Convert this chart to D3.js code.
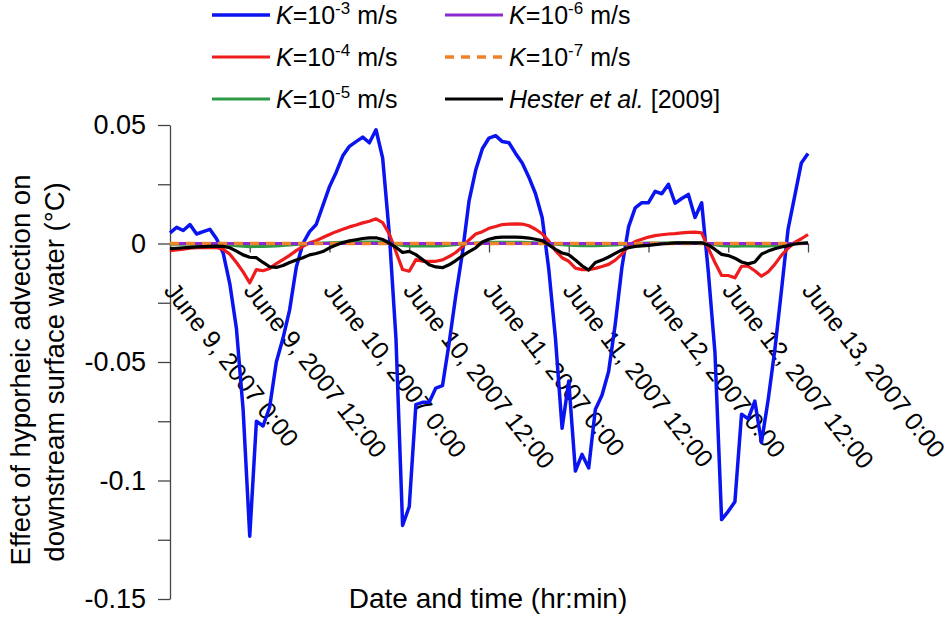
<!DOCTYPE html>
<html>
<head>
<meta charset="utf-8">
<script src="https://cdn.jsdelivr.net/npm/d3@7"></script>
<style>
  body { margin: 0; background: #fff; }
  text { font-family: "Liberation Sans", Arial, sans-serif; fill: #000; }
</style>
</head>
<body>
<div id="chart"></div>
<script>
// Hourly values, June 9 2007 0:00 to June 13 2007 0:00 (97 points)
const startTime = new Date(2007, 5, 9, 0, 0);
const endTime = new Date(2007, 5, 13, 0, 0);

const k3 = [0.0045,0.0068,0.0055,0.008,0.004,0.005,0.006,0.002,-0.004,-0.017,
  -0.036,-0.07,-0.1235,-0.075,-0.077,-0.069,-0.05,-0.04,-0.028,-0.01,
  0,0.005,0.008,0.016,0.024,0.03,0.037,0.041,0.043,0.0449,
  0.0425,0.048,0.036,0.004,-0.04,-0.119,-0.111,-0.068,-0.067,-0.067,
  -0.061,-0.06,-0.042,-0.022,-0.004,0.018,0.031,0.04,0.0445,0.0455,
  0.043,0.0425,0.038,0.034,0.028,0.021,0.011,-0.011,-0.04,-0.078,
  -0.058,-0.096,-0.089,-0.0947,-0.07,-0.064,-0.054,-0.034,-0.01,0.007,
  0.015,0.0172,0.0172,0.022,0.021,0.025,0.017,0.019,0.0207,0.011,
  0.0172,-0.012,-0.046,-0.1165,-0.113,-0.109,-0.072,-0.074,-0.0665,-0.084,
  -0.066,-0.045,-0.02,0.006,0.02,0.034,0.038];

const k4 = [-0.003,-0.0027,-0.0024,-0.002,-0.0018,-0.0017,-0.0017,-0.0017,-0.0025,-0.0045,
  -0.008,-0.012,-0.0166,-0.011,-0.0115,-0.0105,-0.0085,-0.0068,-0.005,-0.003,
  -0.0012,0.0003,0.0012,0.0025,0.0038,0.005,0.006,0.007,0.0078,0.0087,
  0.0094,0.0104,0.0088,0.004,-0.0035,-0.011,-0.0117,-0.0068,-0.0075,-0.0075,
  -0.0075,-0.0069,-0.0055,-0.0038,-0.0013,0.0015,0.004,0.005,0.0064,0.0072,
  0.008,0.0082,0.0083,0.0082,0.0075,0.006,0.0041,0.001,-0.003,-0.006,
  -0.0075,-0.0104,-0.011,-0.011,-0.0105,-0.0097,-0.0088,-0.007,-0.0045,-0.0009,
  0.0008,0.0018,0.0027,0.0033,0.0037,0.004,0.0042,0.0045,0.0047,0.0048,
  0.0045,-0.002,-0.008,-0.0135,-0.0135,-0.0145,-0.0096,-0.0096,-0.0115,-0.0138,
  -0.012,-0.0088,-0.005,-0.002,0.0005,0.002,0.0038];

const k5 = [-0.0003,-0.0003,-0.0003,-0.0003,-0.0003,-0.0003,-0.0003,-0.0003,-0.0004,-0.0006,
  -0.0009,-0.0011,-0.0013,-0.0012,-0.0012,-0.0011,-0.001,-0.0008,-0.0006,-0.0004,
  -0.0002,0,0.0001,0.0002,0.0003,0.0004,0.0005,0.0005,0.0006,0.0006,
  0.0006,0.0006,0.0005,0.0002,-0.0003,-0.0008,-0.001,-0.001,-0.001,-0.001,
  -0.001,-0.0009,-0.0007,-0.0005,-0.0002,0,0.0002,0.0003,0.0004,0.0005,
  0.0005,0.0005,0.0005,0.0005,0.0004,0.0003,0.0002,0,-0.0003,-0.0005,
  -0.0007,-0.0008,-0.0009,-0.0009,-0.0009,-0.0008,-0.0007,-0.0006,-0.0004,-0.0001,
  0,0.0001,0.0002,0.0002,0.0002,0.0003,0.0003,0.0003,0.0003,0.0003,
  0.0003,-0.0001,-0.0005,-0.0009,-0.001,-0.0011,-0.001,-0.001,-0.001,-0.0011,
  -0.001,-0.0008,-0.0005,-0.0003,-0.0001,0,0.0002];

const k6 = [0,0,0,0,0,0,0,0,0,0, 0,0,0,0,0,0,0,0,0,0, 0,0,0,0,0,0,0,0,0,0,
  0,0,0,0,0,0,0,0,0,0, 0,0,0,0,0,0,0,0,0,0, 0,0,0,0,0,0,0,0,0,0,
  0,0,0,0,0,0,0,0,0,0, 0,0,0,0,0,0,0,0,0,0, 0,0,0,0,0,0,0,0,0,0, 0,0,0,0,0,0,0];

const k7 = [0,0,0,0,0,0,0,0,0,0, 0,0,0,0,0,0,0,0,0,0, 0,0,0,0,0,0,0,0,0,0,
  0,0,0,0,0,0,0,0,0,0, 0,0,0,0,0,0,0,0,0,0, 0,0,0,0,0,0,0,0,0,0,
  0,0,0,0,0,0,0,0,0,0, 0,0,0,0,0,0,0,0,0,0, 0,0,0,0,0,0,0,0,0,0, 0,0,0,0,0,0,0];

const hester = [-0.0022,-0.002,-0.0018,-0.0016,-0.0014,-0.0013,-0.0012,-0.0011,-0.0012,-0.0018,
  -0.0032,-0.0048,-0.0058,-0.006,-0.008,-0.0098,-0.0101,-0.0093,-0.008,-0.007,
  -0.006,-0.0048,-0.0042,-0.0034,-0.0018,-0.0006,0.0004,0.0011,0.0016,0.0021,
  0.0024,0.0024,0.0017,0.0002,-0.0016,-0.0038,-0.0033,-0.0047,-0.0068,-0.009,
  -0.0099,-0.0102,-0.009,-0.0072,-0.0052,-0.0034,-0.0018,0.0006,0.0018,0.0025,
  0.0027,0.0027,0.0027,0.0026,0.0023,0.0018,0.0012,-0.0006,-0.0025,-0.004,
  -0.0047,-0.007,-0.0094,-0.0112,-0.008,-0.007,-0.0057,-0.0042,-0.0027,-0.0018,
  -0.0012,-0.001,-0.0008,-0.0005,-0.0002,0,0.0003,0.0003,0.0003,0.0003,
  0.0003,-0.0006,-0.0025,-0.0046,-0.0051,-0.0062,-0.0078,-0.0086,-0.0078,-0.0045,
  -0.0032,-0.0022,-0.0015,-0.0009,-0.0002,0.0001,0.0003];

const yTicks = [-0.15, -0.125, -0.1, -0.075, -0.05, -0.025, 0, 0.025, 0.05];
const yTickLabels = ['-0.15', '', '-0.1', '', '-0.05', '', '0', '', '0.05'];

const series = [
  { exp: '-3', values: k3, color: '#0a14f0', width: 3.5 },
  { exp: '-4', values: k4, color: '#ee1c1c', width: 3.2 },
  { exp: '-5', values: k5, color: '#2e9a45', width: 3.2 },
  { exp: '-6', values: k6, color: '#8a2bd0', width: 3.2 },
  { exp: '-7', values: k7, color: '#f0822a', width: 3.5, dash: '9,7' },
  { hester: true, values: hester, color: '#000', width: 3.2 }
];

const width = 952, height = 617;
const svg = d3.select('#chart').append('svg')
  .attr('width', width)
  .attr('height', height);

const x = d3.scaleTime().domain([startTime, endTime]).range([170, 808]);
const y = d3.scaleLinear().domain([-0.15, 0.05]).range([599, 125]);

// Y axis
const yAxis = svg.append('g')
  .attr('transform', 'translate(170,0)')
  .call(d3.axisLeft(y)
    .tickValues(yTicks)
    .tickFormat((d, i) => yTickLabels[i])
    .tickSize(12)
    .tickSizeOuter(0)
    .tickPadding(12));
yAxis.select('.domain').attr('stroke', '#444').attr('stroke-width', 1.3);
yAxis.selectAll('.tick line').attr('stroke', '#444').attr('stroke-width', 1.3);
yAxis.selectAll('.tick text').attr('font-size', 27).attr('font-family', '"Liberation Sans", Arial, sans-serif').attr('fill', '#000');

// X axis at y = 0
const xTicks = d3.timeHour.every(12).range(startTime, d3.timeHour.offset(endTime, 1));
const xAxis = svg.append('g')
  .attr('transform', `translate(0,${y(0)})`)
  .call(d3.axisBottom(x)
    .tickValues(xTicks)
    .tickFormat('')
    .tickSize(9)
    .tickSizeOuter(0));
xAxis.select('.domain').attr('stroke', '#444').attr('stroke-width', 1.3);
xAxis.selectAll('.tick line').attr('stroke', '#444').attr('stroke-width', 1.3);

// rotated date labels
const fmtLabel = d => `June ${d.getDate()}, 2007 ${d.getHours()}:00`;
svg.append('g').selectAll('text')
  .data(xTicks)
  .join('text')
  .attr('transform', d => `translate(${x(d) - 7},291) rotate(52)`)
  .attr('font-size', 25)
  .text(fmtLabel);

// lines
const line = d3.line()
  .x((d, i) => x(d3.timeHour.offset(startTime, i)))
  .y(d => y(d));

svg.append('g').selectAll('path')
  .data(series)
  .join('path')
  .attr('fill', 'none')
  .attr('stroke', d => d.color)
  .attr('stroke-width', d => d.width)
  .attr('stroke-dasharray', d => d.dash || null)
  .attr('stroke-linejoin', 'round')
  .attr('d', d => line(d.values));

// legend
const legendCols = [212, 445];
const legendRows = [15, 57, 99];
const legend = svg.append('g').selectAll('g')
  .data(series)
  .join('g')
  .attr('transform', (d, i) => `translate(${legendCols[Math.floor(i / 3)]},${legendRows[i % 3]})`);

legend.append('line')
  .attr('x1', 0).attr('x2', 58)
  .attr('stroke', d => d.color)
  .attr('stroke-width', d => d.width)
  .attr('stroke-dasharray', d => d.dash || null);

legend.append('text')
  .attr('x', 64)
  .attr('y', 9)
  .attr('font-size', 25)
  .each(function(d) {
    const t = d3.select(this);
    if (d.hester) {
      t.append('tspan').attr('font-style', 'italic').text('Hester et al.');
      t.append('tspan').text(' [2009]');
    } else {
      t.append('tspan').attr('font-style', 'italic').text('K');
      t.append('tspan').text('=10');
      t.append('tspan').attr('dy', -10).attr('font-size', 17).text(d.exp);
      t.append('tspan').attr('dy', 10).text(' m/s');
    }
  });

// axis titles
svg.append('text')
  .attr('transform', 'translate(30,370) rotate(-90)')
  .attr('text-anchor', 'middle')
  .attr('font-size', 27.5)
  .text('Effect of hyporheic advection on');
svg.append('text')
  .attr('transform', 'translate(64,372) rotate(-90)')
  .attr('text-anchor', 'middle')
  .attr('font-size', 27.5)
  .text('downstream surface water (°C)');

svg.append('text')
  .attr('x', 488)
  .attr('y', 608)
  .attr('text-anchor', 'middle')
  .attr('font-size', 28)
  .text('Date and time (hr:min)');
</script>
</body>
</html>
